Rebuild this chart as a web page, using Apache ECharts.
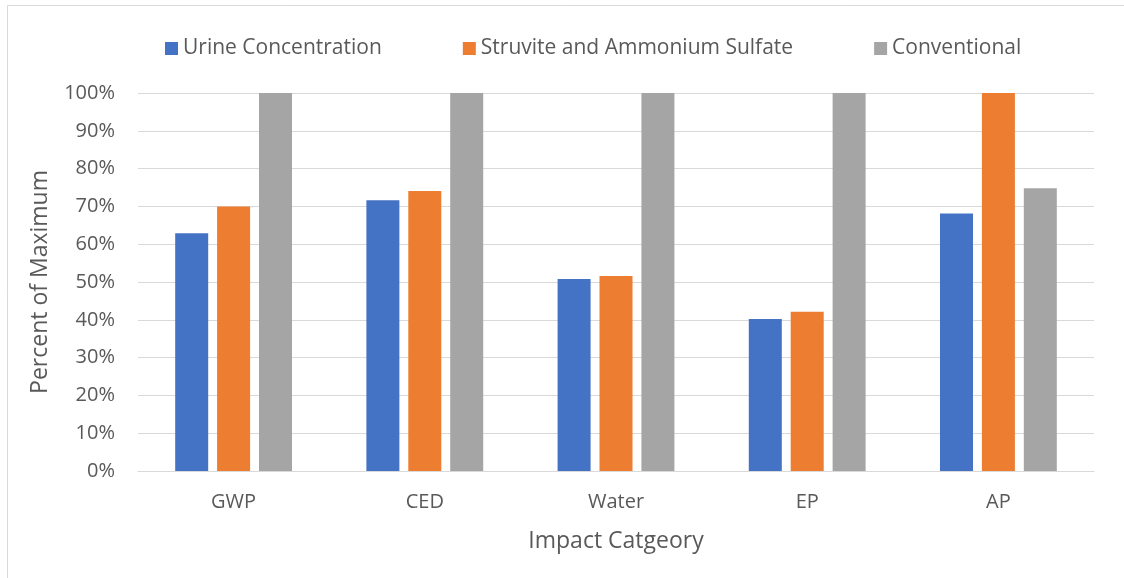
<!DOCTYPE html>
<html>
<head>
<meta charset="utf-8">
<script src="https://cdn.jsdelivr.net/npm/echarts@6/dist/echarts.min.js"></script>
<style>
html, body { margin: 0; padding: 0; background: #fff; }
#chart { width: 1124px; height: 578px; }
</style>
</head>
<body>
<div id="chart"></div>
<script>
// Impact categories and each scenario's share of the maximum (%)
const categories = ['GWP', 'CED', 'Water', 'EP', 'AP'];
const urineConcentration = [62.9, 71.6, 50.8, 40.2, 68.1];
const struviteAmmoniumSulfate = [70.0, 74.1, 51.6, 42.1, 100];
const conventional = [100, 100, 100, 100, 74.8];
const seriesNames = ['Urine Concentration', 'Struvite and Ammonium Sulfate', 'Conventional'];
const seriesColors = ['#4472C4', '#ED7D31', '#A5A5A5'];

const FONT = '"Open Sans", "Noto Sans", sans-serif';
const TEXT = '#595959';

const chart = echarts.init(document.getElementById('chart'), null, { renderer: 'canvas' });

const values = [urineConcentration, struviteAmmoniumSulfate, conventional];

chart.setOption({
  backgroundColor: '#ffffff',
  animation: false,
  graphic: [{
    type: 'rect',
    shape: { x: 7.5, y: 5.5, width: 1200, height: 700 },
    style: { fill: 'none', stroke: '#d9d9d9', lineWidth: 1 },
    silent: true
  }],
  legend: {
    top: 33,
    left: 160,
    itemWidth: 13,
    itemHeight: 13,
    itemGap: 81,
    icon: 'rect',
    textStyle: { fontFamily: FONT, fontSize: 21, color: TEXT },
    data: seriesNames
  },
  grid: { left: 138, right: 30, top: 93, bottom: 107, containLabel: false },
  xAxis: {
    type: 'category',
    data: categories,
    name: 'Impact Catgeory',
    nameLocation: 'middle',
    nameGap: 59,
    nameTextStyle: { fontFamily: FONT, fontSize: 23, color: TEXT },
    axisLine: { lineStyle: { color: '#d9d9d9', width: 1 } },
    axisTick: { show: false },
    axisLabel: { fontFamily: FONT, fontSize: 20, color: TEXT, margin: 21 }
  },
  yAxis: {
    type: 'value',
    min: 0,
    max: 100,
    interval: 10,
    name: 'Percent of Maximum',
    nameLocation: 'middle',
    nameGap: 86,
    nameTextStyle: { fontFamily: FONT, fontSize: 23, color: TEXT },
    axisLine: { show: false },
    axisTick: { show: false },
    splitLine: { lineStyle: { color: '#d9d9d9', width: 1 } },
    axisLabel: { fontFamily: FONT, fontSize: 20, color: TEXT, margin: 23, formatter: '{value}%' }
  },
  series: seriesNames.map((name, i) => ({
    name: name,
    type: 'bar',
    data: values[i],
    barWidth: 33,
    barGap: '27%',
    itemStyle: { color: seriesColors[i] }
  }))
});
</script>
</body>
</html>
